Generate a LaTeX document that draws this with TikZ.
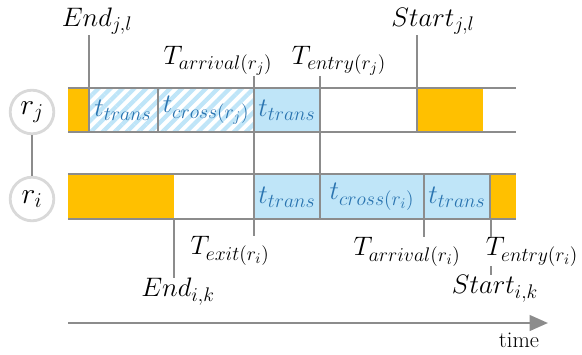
\documentclass[tikz,border=0pt]{standalone}
\usepackage{fix-cm}
\usetikzlibrary{arrows.meta,patterns.meta}
\definecolor{amber}{HTML}{FFC000}
\definecolor{paleblue}{HTML}{BFE5F8}
\definecolor{inkblue}{HTML}{2A74B0}
\definecolor{rule}{HTML}{8C8C8C}
\definecolor{ringgrey}{HTML}{D9D9D9}
\DeclareMathSizes{19}{19}{14}{10.5}
\DeclareMathSizes{21}{21}{15}{11}
\begin{document}
\begin{tikzpicture}[x=0.025cm, y=-0.025cm,
   lane/.style={draw=rule, line width=1.8pt},
   tick/.style={draw=rule, line width=1.3pt},
   cellline/.style={draw=rule, line width=0.8pt},
   slot/.style={fill=paleblue},
   hatch/.style={pattern={Lines[angle=45,distance=6pt,line width=3pt]}, pattern color=paleblue},
   instant/.style={inner sep=0pt, font=\fontsize{19}{21}\selectfont},
   dur/.style={inner sep=0pt, text=inkblue, font=\fontsize{19}{21}\selectfont},
   robot/.style={circle, draw=ringgrey, line width=2pt, minimum size=31pt,
                 inner sep=0pt, fill=white, font=\fontsize{21}{23}\selectfont}]
   \useasboundingbox (0,0) rectangle (582,354);

   % robots
   \node[robot] (rj) at (32,112) {$r_j$};
   \node[robot] (ri) at (32,199) {$r_i$};
   \draw[tick] (rj) -- (ri);

   % occupied blocks
   \foreach \a/\b/\c/\d in {68/88/88/132, 417/88/483/132,
                            68/174/174/219, 491/174/516/219}
     \fill[amber] (\a,\b) rectangle (\c,\d);

   % travel cells
   \foreach \a/\b in {89/158, 158/254}
     \draw[cellline, hatch] (\a,88) rectangle (\b,132);
   \foreach \a/\b/\c/\d in {254/88/320/132, 254/174/320/219,
                            320/174/424/219, 424/174/490/219}
     \draw[cellline, slot] (\a,\b) rectangle (\c,\d);

   \foreach \x/\y/\t/\n in
     {123/110/{t_{trans}}/dj1,
      206/110/{t_{cross(r_j)}}/dj2,
      287/110/{t_{trans}}/dj3,
      287/197/{t_{trans}}/di1,
      372/197/{t_{cross(r_i)}}/di2,
      457/197/{t_{trans}}/di3
     }
     \node[dur] (\n) at (\x,\y) {$\t$};

   % lanes
   \foreach \y in {88,132,174,219}
     \draw[lane] (68,\y) -- (516,\y);

   % instants
   \node[instant, anchor=south] (endjl)   at (97,35)   {$End_{j,l}$};
   \node[instant, anchor=south] (tarrj)   at (218,76)  {$T_{arrival(r_j)}$};
   \node[instant, anchor=south] (tentj)   at (339,76)  {$T_{entry(r_j)}$};
   \node[instant, anchor=south] (startjl) at (433,35)  {$Start_{j,l}$};
   \node[instant, anchor=north] (texiti)  at (230,236) {$T_{exit(r_i)}$};
   \node[instant, anchor=north] (endik)   at (178,278) {$End_{i,k}$};
   \node[instant, anchor=north] (tarri)   at (407,237) {$T_{arrival(r_i)}$};
   \node[instant, anchor=north] (tenti)   at (532,237) {$T_{entry(r_i)}$};
   \node[instant, anchor=north] (startik) at (495,275) {$Start_{i,k}$};

   \foreach \x/\y/\n in {89/132/endjl, 417/132/startjl, 320/174/tentj}
     {\coordinate (foot) at (\x,\y);
      \draw[tick] (foot) -- (foot |- \n.south);}
   \foreach \x/\n in {174/endik, 424/tarri, 491/tenti}
     {\coordinate (foot) at (\x,219);
      \draw[tick] (foot) -- (foot |- \n.north);}
   \coordinate (xa) at (254,0);
   \draw[tick] (xa |- tarrj.south) -- (xa |- texiti.north);
   \coordinate (xb) at (491,0);
   \draw[tick] (xb |- tenti.south) -- (xb |- startik.north);

   % time axis
   \coordinate (t0) at (68,323);
   \coordinate (t1) at (548,323);
   \draw[lane, -{Triangle[length=13pt,width=11pt]}] (t0) -- (t1);
   \node[inner sep=0pt, font=\fontsize{16}{18}\selectfont] (timelbl) at (519,340) {time};
\end{tikzpicture}
\end{document}
